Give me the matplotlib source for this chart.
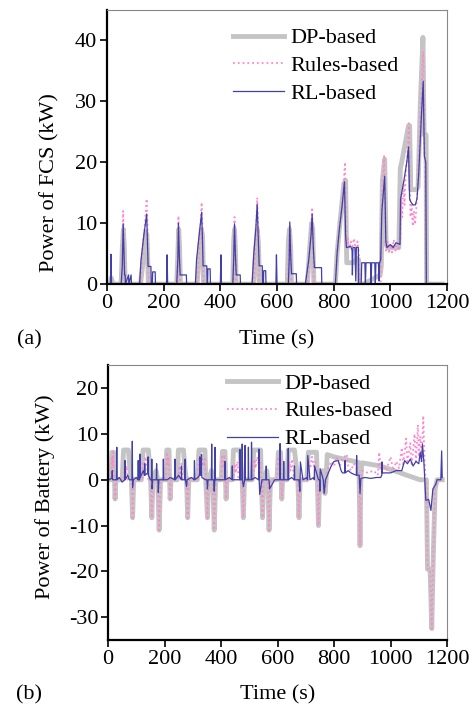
import numpy as np
import matplotlib
matplotlib.use('Agg')
import matplotlib.pyplot as plt

plt.rcParams['font.family'] = ['Liberation Serif', 'DejaVu Serif']
plt.rcParams['font.size'] = 16
plt.rcParams['axes.unicode_minus'] = False

# ---- (a) FCS power, keypoints (time s, power kW)
dp_fcs_t = [0, 12, 15, 18, 22, 50, 54, 58, 61, 64, 118, 128, 137, 141, 146,
            246, 250, 253, 256, 259, 318, 326, 333, 337, 341, 444, 447, 450, 453, 456,
            518, 524, 530, 534, 538, 636, 640, 644, 648, 651, 707, 714, 722, 726, 730,
            806, 812, 822, 836, 842, 846, 870, 884, 888, 891, 905, 964, 968, 972, 980, 985,
            990, 1030, 1035, 1040, 1064, 1068, 1072, 1092, 1098, 1106, 1115, 1119, 1126,
            1128, 1183]
dp_fcs_v = [0, 0, 1, 0.5, 0, 0, 6, 9, 6, 0, 0, 4, 8.5, 8, 0,
            0, 5, 9, 6, 0, 0, 5, 9, 8, 0, 0, 7, 9, 6, 0,
            0, 5, 9, 7, 0, 0, 7, 9, 6, 0, 0, 5, 10, 9, 0,
            0, 5, 10, 16.5, 17, 3.5, 3.5, 4.2, 4, 0, 0, 1.5, 3, 17, 20.5, 6.5,
            6, 6, 19, 20, 26, 26, 15.5, 15.5, 16, 30, 40.5, 24.5, 24.5,
            0, 0]

rules_fcs_t = [0, 52, 55, 57, 59, 62, 64, 118, 126, 134, 140, 143, 146, 248, 250, 252, 255, 257,
               318, 326, 334, 337, 340, 446, 448, 450, 453, 455, 518, 525, 530, 534, 537,
               638, 642, 645, 649, 651, 708, 716, 724, 727, 730,
               806, 815, 830, 840, 843, 846, 850, 855, 860, 866, 872, 878, 884, 889, 892, 966,
               970, 978, 982, 985, 990, 995, 1000, 1006, 1012, 1018, 1024, 1030, 1035, 1038,
               1042, 1046, 1050, 1055, 1060, 1065, 1068, 1071, 1075, 1079, 1083, 1087, 1091,
               1095, 1102, 1110, 1116, 1120, 1124, 1127, 1183]
rules_fcs_v = [0, 0, 6, 12, 8, 2, 0, 0, 6, 10, 14, 9, 0, 0, 5, 11.2, 7, 0,
               0, 6, 13.4, 9, 0, 0, 6, 11, 7, 0, 0, 7, 14.2, 9, 0,
               0, 6, 9.5, 6, 0, 0, 6, 12.6, 8, 0,
               0, 7, 13, 20, 12, 6.5, 7.5, 5.8, 7, 6.2, 7.5, 5.5, 7, 5, 0, 0,
               14, 21, 12, 5.5, 7, 5, 6.5, 5.2, 7.3, 5.5, 6.8, 5.5, 7, 14,
               11, 17, 13, 19, 21, 26.4, 19, 11, 13, 9.5, 12, 9.8, 12,
               15, 24, 32, 38.2, 26, 10, 0, 0]

rl_fcs_t = [0, 12, 14, 16, 50, 54, 57, 60, 62, 64, 65, 76, 77, 85, 86,
            115, 120, 130, 140, 143, 145, 146, 155, 156, 160, 161, 170, 171,
            210, 212, 214, 246, 250, 252, 255, 258, 262, 280, 281,
            312, 316, 325, 334, 337, 339, 340, 352, 353, 355, 356, 364, 365,
            400, 402, 404, 444, 447, 450, 453, 456, 458, 470, 471,
            512, 518, 525, 530, 534, 537, 538, 548, 549, 552, 553, 560, 561,
            596, 598, 600, 640, 643, 645, 648, 651, 655, 668, 669,
            700, 712, 720, 724, 728, 732, 740, 757, 758,
            806, 812, 820, 830, 838, 842, 845, 860, 865, 866, 868, 875, 878, 880, 887,
            888, 897, 899, 910, 912, 914, 930, 932, 934, 945, 947, 949, 958, 960, 962,
            966, 970, 980, 984, 988, 1000, 1010, 1020, 1034, 1036, 1048, 1058, 1064,
            1068, 1072, 1080, 1088, 1094, 1100, 1110, 1116, 1120, 1125, 1127, 1183]
rl_fcs_v = [0, 0, 4.9, 0, 0, 3, 9.9, 5, 1.5, 1.5, 0, 1.5, 0, 1.5, 0,
            0, 4, 8, 11.5, 6, 2.9, 2.9, 2.9, 0, 0, 2, 2, 0,
            0, 4.8, 0, 0, 4, 10, 5, 1.5, 1.5, 1.5, 0,
            0, 4, 8, 11.8, 7, 3, 3, 3, 0, 0, 2.5, 2.5, 0,
            0, 4.8, 0, 0, 4, 9.9, 5, 1.5, 1.5, 1.5, 0,
            0, 5, 9, 13.1, 7, 3, 3, 3, 0, 0, 2.2, 2.2, 0,
            0, 4.8, 0, 0, 4, 10.2, 5, 1.7, 1.7, 1.7, 0,
            0, 4, 8, 11.5, 6, 2.7, 2.7, 2.7, 0,
            0, 5, 9, 13, 16.8, 8, 6, 6.2, 5.5, 1.5, 6, 6, 0.5, 6, 6,
            0, 0, 3.5, 3.5, 0, 3.5, 3.5, 0, 3.5, 3.5, 0, 3.5, 3.5, 0.5, 3.5,
            4, 12, 17.7, 7, 6, 6.5, 6, 6.8, 6.5, 14, 17, 20, 22.5,
            14, 13.5, 13, 13, 14, 18, 28, 33.3, 21, 20, 0, 0]

# ---- (b) battery power
dp_bat_t = [0, 10, 14, 20, 23, 25, 28, 50, 55, 72, 78, 83, 87, 91, 118, 124, 143, 148, 151, 155,
            159, 170, 176, 181, 186,
            205, 208, 216, 218, 220, 223, 245, 249, 267, 273, 278, 282, 286, 316, 322, 343, 346,
            352, 356, 366, 371, 376, 381,
            401, 405, 414, 416, 418, 421, 440, 444, 467, 472, 475, 479, 483, 510, 516, 540, 543,
            547, 551, 562, 566, 570, 575,
            598, 603, 611, 613, 615, 618, 634, 638, 660, 668, 672, 676, 680, 704, 709, 738, 741,
            745, 749, 760, 764, 768, 772,
            776, 800, 886, 889, 892, 895, 898, 965, 1104, 1127, 1131, 1140, 1146, 1152, 1158,
            1165, 1183]
dp_bat_v = [0, 0, 6, 6, 0, -4.2, 0, 0, 6.5, 6.5, 2, 0, -8.3, 0, 0, 6.5, 6.5, 2, 0, -8.3,
            0, 2, 0, -11, 0,
            0, 6.5, 6.5, 0, -4.2, 0, 0, 6.5, 6.5, 2, 0, -8.3, 0, 0, 6.5, 6.5, 0,
            -8.3, 0, 2, 0, -11, 0,
            0, 6.2, 6.2, 0, -4.2, 0, 0, 6.5, 6.5, 2, 0, -8.3, 0, 0, 6.5, 6.5, 0,
            -8.3, 0, 2, 0, -11, 0,
            0, 6, 6, 0, -4.2, 0, 0, 6.5, 6.5, 2, 0, -8.3, 0, 0, 6, 6, 0,
            -10, 0, 2, 0, -3, 0,
            5.5, 5, 3.8, 0, -14.4, 0, 3.7, 3, 0, 0, -19.5, -19.5, -32.5, -15, -2,
            0, 0]

rules_bat_t = [0, 12, 14, 16, 18, 20, 23, 25, 28, 55, 58, 62, 66, 70, 85, 87, 91, 120, 124, 128,
               132, 138, 143, 151, 155, 159, 176, 181, 186,
               205, 208, 211, 214, 218, 220, 223, 248, 252, 256, 260, 264, 278, 282, 286,
               318, 322, 326, 330, 336, 342, 348, 352, 356, 371, 376, 381,
               401, 404, 408, 412, 416, 418, 421, 444, 448, 452, 458, 462, 475, 479, 483,
               514, 518, 522, 528, 534, 540, 543, 547, 551, 566, 570, 575,
               598, 602, 606, 610, 613, 615, 618, 638, 642, 646, 652, 658, 672, 676, 680,
               706, 710, 716, 722, 728, 734, 741, 745, 749, 764, 768, 772,
               776, 790, 800, 810, 820, 830, 845, 850, 860, 870, 886, 889, 892, 895, 900, 920,
               940, 955, 960, 965, 975, 985, 1000, 1010, 1020, 1030, 1040, 1045, 1055, 1060,
               1070, 1075, 1085, 1090, 1097, 1100, 1105, 1110, 1116, 1120, 1124, 1127, 1131,
               1140, 1146, 1152, 1158, 1165, 1183]
rules_bat_v = [0, 0, 5, 3, 6, 2, 0, -4.2, 0, 0, 2.5, 1, 3, 0, 0, -8.3, 0, 0, 4, 2.5,
               5, 3, 0, 0, -8.3, 0, 0, -11, 0,
               0, 6, 3, 5, 0, -4.2, 0, 0, 3, 1.5, 3.5, 0, 0, -8.3, 0,
               0, 5, 3, 5.5, 3, 4.5, 0, -8.3, 0, 0, -11, 0,
               0, 5, 3, 5.5, 0, -4.2, 0, 0, 3.5, 1.5, 4, 0, 0, -8.3, 0,
               0, 4.5, 2.5, 5, 3, 4, 0, -8.3, 0, 0, -11, 0,
               0, 5, 3, 5, 0, -4.2, 0, 0, 4, 2, 4.5, 0, 0, -8.3, 0,
               0, 4, 2.5, 5, 3, 4, 0, -10, 0, 0, -3, 0,
               2, 4, 3, 5, 3, 4.5, 5.6, 3, 2, 3.5, 2, 0, -14.4, 0, 2, 1.5,
               2, 1, 6, 2, 3, 2, 5, 2, 4, 2.5, 7, 3, 9, 4,
               8, 3, 10, 4, 12, 5, 9.5, 4, 14, 5, 0, 0, -19.5,
               -19.5, -32.5, -15, -2, 0, 0]

rl_bat_t = [0, 14, 15, 16, 30, 31, 32, 40, 50, 59, 60, 61, 70, 75, 85, 86, 87, 89, 100, 106,
            107, 108, 112, 113, 114, 125, 129, 130, 131, 141, 142, 143, 150, 154, 155, 156,
            158, 171, 172, 173, 177, 178, 180, 195, 196, 197,
            210, 220, 236, 237, 238, 250, 259, 260, 261, 272, 273, 274, 278, 280, 295, 305,
            306, 307, 318, 324, 325, 326, 330, 331, 332, 345, 350, 352, 354, 366, 367, 368,
            374, 376, 378, 379, 380,
            400, 413, 414, 415, 430, 439, 440, 441, 455, 466, 467, 468, 474, 475, 476, 479,
            484, 485, 486, 496, 497, 498, 507, 508, 509, 520, 533, 534, 535, 537, 545, 559,
            560, 561, 570, 572,
            590, 608, 609, 610, 621, 622, 623, 637, 638, 639, 650, 659, 660, 661, 676, 679,
            680, 681, 690, 705, 706, 707, 715, 729, 730, 731, 745, 749, 750, 751, 762, 765,
            770, 790, 800, 815, 825, 830, 838, 839, 840, 850, 860, 870, 879, 880, 881, 889,
            892, 895, 910, 930, 950, 965, 969, 970, 971, 975, 1000, 1020, 1040, 1050, 1060,
            1070, 1080, 1090, 1100, 1105, 1110, 1113, 1118, 1125, 1135, 1143, 1150, 1160,
            1165, 1178, 1181, 1183]
rl_bat_v = [0, 0.3, 2, 0, 0, 7.1, 0, 0.5, -0.5, 0, 4.2, 0, 1, 0, 0, 8.4, -1.7, 0, 0.5, 0,
            4.2, 0, 0, 5.6, 0.5, 2, 1, 3.5, 1, 1.5, 5, 1, 0, 0, 4.5, -2,
            0, 0, 3.5, 0, 0, -2.8, 0, 0, 4.5, 0,
            0, 0.5, 0, 4.5, 0, 1, 0, 3, 0, 0, 4.5, 0, -1.5, 0, 0.5, 0,
            4.2, 0, 0.5, 1, 5, 1, 1, 5.5, 0.5, 0, 0, -2, 0, 0, 7.8, 0,
            0, -2.5, 0, 7.1, 0,
            0, 0, 4, 0, 0.5, 0, 3, 0, 0, 0, 6.6, 0, 0, 7.8, 0, -1.5,
            0, 7.5, 0, 0, 7.1, 0, 0, 8.2, 0, 0.5, 0, 6.7, 0, -3.2, 0, 0,
            3, 0, 0, -2,
            0, 0, 7.9, 0, 0, 4, 0, 0, 6.8, 0, 0.5, 0, 3, 0, 0, -2.5,
            0, 3.9, 0, 0.5, 0, 5.3, 0, 0.5, 0, 3, 0, 0, -2.5, 2.4, 0, -3,
            0, 3, 4, 4.2, 2, 1.5, 1.5, 4.2, 1.5, 2, 1.5, 1.2, 1, 5.3, 1, 1,
            -3, 0.3, 0.5, 0.3, 0.5, 0.5, 1, 3.9, 1.5, 1.5, 1.5, 2, 2, 4.2, 3.5,
            4.5, 3, 4, 3.5, 6, 4, 7.8, 4, -4.5, -4.3, -6.7, -2, -1,
            0, 0, 6.3, 0.5]

labels = ['DP-based', 'Rules-based', 'RL-based']
c_dp = '#c4c4c4'
c_rules = '#ff88cc'
c_rl = '#4040a8'

fig = plt.figure(figsize=(4.75, 7.12), dpi=100)
ax1 = fig.add_axes([0.2253, 0.601, 0.7158, 0.385])
ax2 = fig.add_axes([0.2274, 0.101, 0.7137, 0.386])


def style(ax):
    for s in ['left', 'bottom']:
        ax.spines[s].set_linewidth(1.6)
        ax.spines[s].set_color('black')
    for s in ['top', 'right']:
        ax.spines[s].set_linewidth(0.8)
        ax.spines[s].set_color('#888888')
    ax.tick_params(direction='out', length=5, width=1.2, top=False, right=False, pad=2)


ax1.plot(dp_fcs_t, dp_fcs_v, color=c_dp, lw=3.5, label=labels[0])
ax1.plot(rules_fcs_t, rules_fcs_v, color=c_rules, lw=1.3, ls=':', label=labels[1])
ax1.plot(rl_fcs_t, rl_fcs_v, color=c_rl, lw=0.9, label=labels[2])
ax1.set_xlim(0, 1200)
ax1.set_ylim(0, 45)
ax1.set_xticks(np.arange(0, 1201, 200))
ax1.set_yticks([0, 10, 20, 30, 40])
ax1.set_ylabel('Power of FCS (kW)')
ax1.yaxis.set_label_coords(-0.14, 0.37)
ax1.set_xlabel('Time (s)')
ax1.xaxis.set_label_coords(0.5, -0.168)
style(ax1)
ax1.legend(loc='upper left', bbox_to_anchor=(0.37, 0.935), frameon=False, borderpad=0,
           handlelength=2.3, handletextpad=0.3, labelspacing=0.33, borderaxespad=0)

ax2.plot(dp_bat_t, dp_bat_v, color=c_dp, lw=3.5, label=labels[0])
ax2.plot(rules_bat_t, rules_bat_v, color=c_rules, lw=1.3, ls=':', label=labels[1])
ax2.plot(rl_bat_t, rl_bat_v, color=c_rl, lw=0.9, label=labels[2])
ax2.set_xlim(0, 1200)
ax2.set_ylim(-35, 25)
ax2.set_xticks(np.arange(0, 1201, 200))
ax2.set_yticks([-30, -20, -10, 0, 10, 20])
ax2.set_ylabel('Power of Battery (kW)')
ax2.yaxis.set_label_coords(-0.155, 0.52)
ax2.set_xlabel('Time (s)')
ax2.xaxis.set_label_coords(0.5, -0.164)
style(ax2)
ax2.legend(loc='upper left', bbox_to_anchor=(0.351, 0.972), frameon=False, borderpad=0,
           handlelength=2.3, handletextpad=0.3, labelspacing=0.33, borderaxespad=0)

fig.text(0.036, 1 - 330 / 712, '(a)', va='top', ha='left')
fig.text(0.034, 1 - 685 / 712, '(b)', va='top', ha='left')

fig.savefig('out.png', dpi=100)
